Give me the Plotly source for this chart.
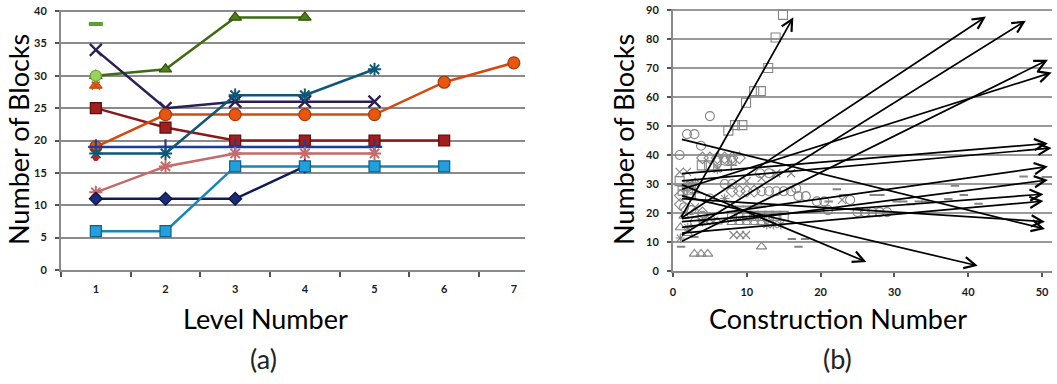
import plotly.graph_objects as go

# ---------------- data: panel (a) ----------------
levels = [1, 2, 3, 4, 5, 6, 7]
s_green_dash = [38]
s_green_tri = [30, 31, 39, 39]
s_lightgreen = [30]
s_orange_tri = [28.5]
s_purple_x = [34, 25, 26, 26, 26]
s_darkred_sq = [25, 22, 20, 20, 20, 20]
s_orange_circ = [19, 24, 24, 24, 24, 29, 32]
s_blue_plus = [19, 19, 19, 19, 19]
s_teal_star = [18, 18, 27, 27, 31]
s_pink_star = [12, 16, 18, 18, 18]
s_navy_diam = [11, 11, 11, 16]
s_lblue_sq = [6, 6, 16, 16, 16, 16]
s_red_dot = [17.3]
a_yticks = [0, 5, 10, 15, 20, 25, 30, 35, 40]

# ---------------- data: panel (b) ----------------
sq_x = [0.9, 1.3, 2, 3.9, 4.9, 7.5, 8.4, 9.4, 9.9, 11, 11.9, 12.9, 13.9, 14.9,
        8, 9, 10, 11, 12, 13, 14, 15]
sq_y = [31, 27.7, 28, 36.4, 36.4, 48.4, 50.3, 50.3, 58, 62, 62, 70, 80.5, 88.3,
        19, 19, 19, 19, 19, 19, 19, 19]
ci_x = [0.9, 1.9, 2.9, 3.8, 5, 6, 7, 8, 7, 8, 12, 13, 14, 15, 16, 16.7, 17, 18,
        11.8, 13, 19.5, 20.5, 21, 25, 26, 27, 28, 29, 24, 1.5, 2.5, 4, 5, 3]
ci_y = [40, 47.2, 47.2, 43.2, 53.4, 38, 38, 38, 30, 30, 27.5, 27.5, 27.5, 27.5,
        27.5, 28.5, 25.8, 25.8, 33.7, 33.7, 24, 24, 21, 20.3, 20.3, 20.3, 20.3,
        20.3, 24.5, 22, 21, 19, 25, 17]
di_x = [4, 5, 6, 7, 8, 9, 8, 9, 10, 11, 1, 1, 2, 3, 4, 5]
di_y = [39, 39, 39, 39, 39, 39, 27.5, 27.5, 27.5, 27.5, 26, 23, 29, 30, 20, 18]
xx_x = [0.9, 1.9, 8.2, 9.1, 9.9, 22.9, 14, 16, 6.1, 3, 5, 10, 12]
xx_y = [34.2, 34.2, 12.4, 12.4, 12.4, 24.5, 33.7, 33.7, 35.5, 22, 18, 31, 32]
tr_x = [2.9, 3.8, 4.7, 12, 8, 9, 10, 11, 12, 13, 1, 2, 1.5, 6]
tr_y = [5.9, 5.9, 5.9, 8.4, 16.8, 16.8, 16.8, 16.8, 16.8, 16.8, 15, 13, 19, 17]
da_x = [1.1, 2.9, 16.1, 17.9, 17, 22.2, 23.1, 27.2, 28.1, 21.1, 30.3, 31.2, 32.2,
        33.3, 34.2, 37.3, 38.2, 39.4, 41.4, 47.5, 50.5, 51.2, 8, 9, 10, 11, 12]
da_y = [8.4, 11.7, 11, 11, 8.4, 28.2, 26.2, 26.2, 26.2, 24, 24, 24, 23, 24, 24,
        24.8, 29.4, 26.2, 23.2, 32.6, 32.4, 32.4, 22.2, 22.2, 22.2, 22.2, 22.2]
pl_x = [7.9, 1.5, 3]
pl_y = [36.5, 27.9, 27]
st_x = [2.3, 3, 1, 12.7, 13.6, 14.6, 6, 7, 4, 2]
st_y = [29.7, 30, 11.4, 16, 16, 16, 35, 25, 17, 15]

arrow_x0 = [1, 1, 1, 1, 1, 1, 1, 1, 1, 1, 1, 1, 1, 1, 1]
arrow_y0 = [18, 18, 12, 10, 28, 33.5, 31, 18, 15, 17, 13, 25, 45.5, 30, 26]
arrow_x1 = [16.3, 42.4, 47.8, 50.8, 51.3, 50.8, 51.3, 50.8, 50.8, 50.2, 50.2, 50.4, 50.4, 26.2, 41.3]
arrow_y1 = [87.5, 87.7, 86.3, 72.8, 68.4, 44, 42.4, 36, 31.4, 26.5, 24.1, 17, 14.5, 3.1, 1.8]
b_xticks = [0, 10, 20, 30, 40, 50]
b_yticks = [0, 10, 20, 30, 40, 50, 60, 70, 80, 90]

W, H = 1057, 384


def px(v):
    return v / W


def py(v):
    return 1 - v / H


fig = go.Figure()


def add_left(vals, color, symbol, size, fill=None, edge=None, lw=2.5, mlw=1.2, mode='lines+markers'):
    fig.add_trace(go.Scatter(
        x=levels[:len(vals)], y=vals, mode=mode,
        line=dict(color=color, width=lw),
        marker=dict(symbol=symbol, size=size, color=fill or color,
                    line=dict(color=edge or color, width=mlw)),
        xaxis='x', yaxis='y', showlegend=False, hoverinfo='skip'))


add_left(s_green_dash, '#5a9e2c', 'line-ew', 10, mode='markers', mlw=4)
add_left(s_green_tri, '#3e6b12', 'triangle-up', 11, fill='#4d7f1c', edge='#2f5208')
add_left(s_orange_tri, '#e8621e', 'triangle-up', 11, mode='markers', edge='#b84a10')
add_left(s_orange_tri, '#c94e18', 'x-thin', 8, mode='markers', mlw=1.5)
add_left(s_lightgreen, '#9ad35c', 'circle', 11, mode='markers', edge='#6ea33a')
add_left(s_purple_x, '#2b1d55', 'x-thin', 12, mlw=2.2)
add_left(s_darkred_sq, '#8a1a1a', 'square', 11, fill='#a11f1f', edge='#5c0e0e')
add_left(s_orange_circ, '#d44a0e', 'circle', 12, fill='#e8560f', edge='#a8380a')
add_left(s_blue_plus, '#1c3c9c', 'cross-thin', 11, mlw=2.2)
add_left(s_teal_star, '#0d5876', 'asterisk', 11, mlw=2)
add_left(s_pink_star, '#c46a6a', 'asterisk', 11, mlw=2)
add_left(s_navy_diam, '#101c58', 'diamond', 10, fill='#1a2a78', edge='#0a1240')
add_left(s_lblue_sq, '#1686b8', 'square', 11, fill='#20a0dc', edge='#0f5f88')
add_left(s_red_dot, '#c0201c', 'circle', 5, mode='markers')


def add_right(xs, ys, symbol, size, lw=1.1):
    fig.add_trace(go.Scatter(
        x=xs, y=ys, mode='markers',
        marker=dict(symbol=symbol, size=size, color='#858585',
                    line=dict(color='#858585', width=lw)),
        xaxis='x2', yaxis='y2', showlegend=False, hoverinfo='skip'))


add_right(sq_x, sq_y, 'square-open', 9)
add_right(ci_x, ci_y, 'circle-open', 9)
add_right(di_x, di_y, 'diamond-open', 9)
add_right(xx_x, xx_y, 'x-thin-open', 8, 1.2)
add_right(tr_x, tr_y, 'triangle-up-open', 9)
add_right(da_x, da_y, 'line-ew-open', 6, 2)
add_right(pl_x, pl_y, 'cross-thin-open', 8, 1.5)
add_right(st_x, st_y, 'asterisk-open', 8, 1.1)

annotations = []
for x0, y0, x1, y1 in zip(arrow_x0, arrow_y0, arrow_x1, arrow_y1):
    annotations.append(dict(
        x=x1, y=y1, ax=x0, ay=y0, xref='x2', yref='y2', axref='x2', ayref='y2',
        text='', showarrow=True, arrowhead=5, arrowsize=1.3, arrowwidth=1.7,
        arrowcolor='#000000', standoff=0, startstandoff=0))

title_font = dict(family='Lato, Open Sans, sans-serif', size=27, color='#000000')
annotations += [
    dict(text='Number of Blocks', x=px(19), y=py(140), xref='paper', yref='paper',
         textangle=-90, showarrow=False, font=title_font, xanchor='center', yanchor='middle'),
    dict(text='Level Number', x=px(265), y=py(318), xref='paper', yref='paper',
         showarrow=False, font=title_font, xanchor='center', yanchor='middle'),
    dict(text='(a)', x=px(263), y=py(358), xref='paper', yref='paper',
         showarrow=False, font=dict(family='Lato, sans-serif', size=27, color='#222222'),
         xanchor='center', yanchor='middle'),
    dict(text='Number of Blocks', x=px(624), y=py(140), xref='paper', yref='paper',
         textangle=-90, showarrow=False, font=title_font, xanchor='center', yanchor='middle'),
    dict(text='Construction Number', x=px(838), y=py(318), xref='paper', yref='paper',
         showarrow=False, font=title_font, xanchor='center', yanchor='middle'),
    dict(text='(b)', x=px(837), y=py(358), xref='paper', yref='paper',
         showarrow=False, font=dict(family='Lato, sans-serif', size=27, color='#222222'),
         xanchor='center', yanchor='middle'),
]

tick_font = dict(family='Lato, Open Sans, sans-serif', size=11, color='#1a1a1a', weight='bold')

fig.update_layout(
    width=W, height=H, margin=dict(l=0, r=0, t=0, b=0, pad=0, autoexpand=False),
    paper_bgcolor='white', plot_bgcolor='white', showlegend=False,
    annotations=annotations,
    xaxis=dict(domain=[px(61), px(525)], range=[0.5, 7.16], anchor='y', automargin=False,
               tickmode='array', tickvals=levels, ticktext=[str(v) for v in levels],
               ticks='', showgrid=False, zeroline=False,
               showline=True, linecolor='#8a8a8a', linewidth=2,
               tickfont=tick_font, ticklabelstandoff=8,
               minor=dict(tick0=0.5, dtick=1, ticks='outside', ticklen=5,
                          tickcolor='#555555', tickwidth=1.5, showgrid=False)),
    yaxis=dict(domain=[py(270), py(9.7)], range=[0, 40.2], anchor='x', automargin=False,
               tickmode='array', tickvals=a_yticks,
               ticks='outside', ticklen=4, tickcolor='#555555', tickwidth=1.5,
               showgrid=True, gridcolor='#8a8a8a', gridwidth=2, zeroline=False,
               showline=True, linecolor='#8a8a8a', linewidth=2,
               tickfont=tick_font, ticklabelstandoff=6),
    xaxis2=dict(domain=[px(673), px(1052)], range=[0, 51.35], anchor='y2', automargin=False,
                tickmode='array', tickvals=b_xticks,
                ticks='outside', ticklen=4, tickcolor='#555555', tickwidth=1.5,
                showgrid=False, zeroline=False,
                showline=True, linecolor='#8a8a8a', linewidth=2,
                tickfont=tick_font, ticklabelstandoff=6),
    yaxis2=dict(domain=[py(271), py(8.5)], range=[0, 90.5], anchor='x2', automargin=False,
                tickmode='array', tickvals=b_yticks,
                ticks='outside', ticklen=4, tickcolor='#555555', tickwidth=1.5,
                showgrid=True, gridcolor='#999999', gridwidth=2, zeroline=False,
                showline=True, linecolor='#8a8a8a', linewidth=2,
                tickfont=tick_font, ticklabelstandoff=6),
)

fig.write_html('out.html', config={'displayModeBar': False},
               post_script="document.body.style.margin='0';document.body.style.overflow='hidden';")
